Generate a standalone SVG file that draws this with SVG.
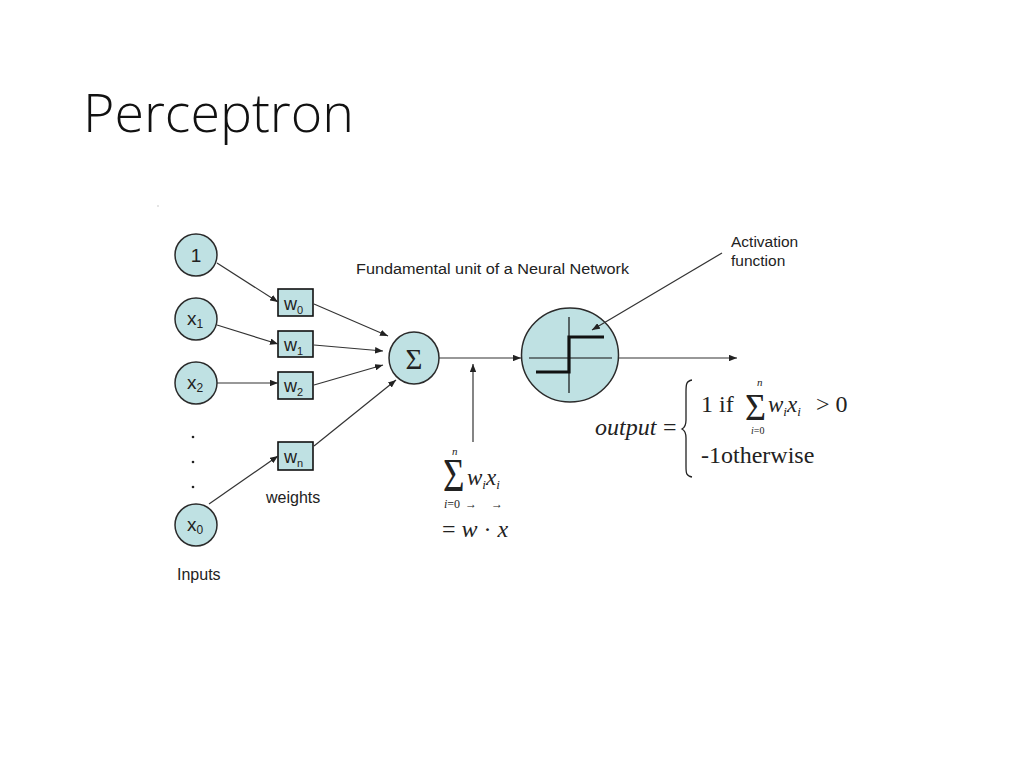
<svg xmlns="http://www.w3.org/2000/svg" width="1024" height="768" viewBox="0 0 1024 768">
<defs>
<marker id="ah" viewBox="0 0 10 8" refX="10" refY="4" markerWidth="8" markerHeight="6.4" markerUnits="userSpaceOnUse" orient="auto">
<path d="M0,0 L10,4 L0,8 Z" fill="#222"/>
</marker>
<style>
.bg{fill:#ffffff}
.node{fill:#bfe1e3;stroke:#2b2b2b;stroke-width:1.5}
.box{fill:#bfe1e3;stroke:#111;stroke-width:1.6}
.lab{font-family:"Liberation Sans",Arial,sans-serif;fill:#222}
.m{font-family:"Liberation Serif","Times New Roman",serif;fill:#222}
.mi{font-family:"Liberation Serif","Times New Roman",serif;font-style:italic;fill:#222}
.c{stroke:#333;stroke-width:1.2;fill:none;marker-end:url(#ah)}
.ax{stroke:#111;stroke-width:1.2;fill:none}
.step{stroke:#111;stroke-width:3.2;fill:none}
</style>
</defs>
<rect class="bg" x="0" y="0" width="1024" height="768"/>
<text x="83" y="132" font-family="'Open Sans','Noto Sans',sans-serif" font-weight="300" font-size="54" fill="#111" textLength="271" lengthAdjust="spacingAndGlyphs">Perceptron</text>
<rect x="157.5" y="205.5" width="1" height="1" fill="#999"/>

<g id="in-1">
<circle class="node" cx="196" cy="255" r="21"/>
<text class="lab" x="196" y="262" font-size="19" text-anchor="middle">1</text>
</g>
<g id="in-x1">
<circle class="node" cx="196" cy="319" r="21"/>
<text class="lab" x="187" y="325" font-size="19">x<tspan font-size="12" dy="3">1</tspan></text>
</g>
<g id="in-x2">
<circle class="node" cx="196" cy="383" r="21"/>
<text class="lab" x="187" y="389" font-size="19">x<tspan font-size="12" dy="3">2</tspan></text>
</g>
<g id="dots">
<circle cx="193" cy="437" r="1.3" fill="#222"/>
<circle cx="193" cy="462" r="1.3" fill="#222"/>
<circle cx="193" cy="487" r="1.3" fill="#222"/>
</g>
<g id="in-x0">
<circle class="node" cx="196" cy="525" r="21"/>
<text class="lab" x="187" y="531" font-size="19">x<tspan font-size="12" dy="3">0</tspan></text>
</g>
<text class="lab" x="177" y="580" font-size="16">Inputs</text>

<g id="w0">
<rect class="box" x="278" y="289" width="35" height="27"/>
<text class="lab" x="284" y="310" font-size="18">w<tspan font-size="11" dy="4">0</tspan></text>
</g>
<g id="w1">
<rect class="box" x="278" y="331" width="35" height="26"/>
<text class="lab" x="284" y="351" font-size="18">w<tspan font-size="11" dy="4">1</tspan></text>
</g>
<g id="w2">
<rect class="box" x="278" y="372" width="35" height="27"/>
<text class="lab" x="284" y="392" font-size="18">w<tspan font-size="11" dy="4">2</tspan></text>
</g>
<g id="wn">
<rect class="box" x="278" y="442" width="35" height="28"/>
<text class="lab" x="284" y="463" font-size="18">w<tspan font-size="11" dy="4">n</tspan></text>
</g>
<text class="lab" x="266" y="503" font-size="16">weights</text>

<g id="sum">
<ellipse class="node" cx="414" cy="358" rx="25" ry="26"/>
<text class="m" x="414" y="369" font-size="29" text-anchor="middle">Σ</text>
</g>

<text class="lab" x="356" y="274" font-size="15.5" textLength="273" lengthAdjust="spacingAndGlyphs">Fundamental unit of a Neural Network</text>

<g id="activation">
<ellipse class="node" cx="570" cy="355" rx="48.5" ry="47"/>
<line class="ax" x1="529" y1="358" x2="612" y2="358"/>
<line class="ax" x1="569" y1="317" x2="569" y2="393"/>
<path class="step" d="M536,372 H569 V337 H604"/>
</g>
<text class="lab" x="731" y="247" font-size="15.5">Activation</text>
<text class="lab" x="731" y="266" font-size="15.5">function</text>

<g id="sum-formula">
<text class="m" font-size="42" transform="translate(443,491) scale(0.88,1.08)">Σ</text>
<text class="mi" x="452" y="455" font-size="11">n</text>
<text class="mi" x="467" y="485" font-size="23">w<tspan font-size="13" dy="4">i</tspan><tspan dy="-4">x</tspan><tspan font-size="13" dy="4">i</tspan></text>
<text class="m" x="444" y="508" font-size="12"><tspan font-style="italic">i</tspan>=0</text>
<text class="m" x="465" y="508" font-size="12">→</text>
<text class="m" x="491" y="508" font-size="12">→</text>
<text class="m" x="442" y="537" font-size="24">= <tspan font-style="italic">w</tspan> · <tspan font-style="italic">x</tspan></text>
</g>

<g id="output-formula">
<text class="mi" x="595" y="435" font-size="24">output</text>
<text class="m" x="663" y="435" font-size="24">=</text>
<path d="M692,380 C686,381 686,385 686,392 L686,420 C686,425 684,428 682,429 C684,430 686,433 686,438 L686,466 C686,473 686,476 692,477" fill="none" stroke="#222" stroke-width="1.3"/>
<text class="m" x="701" y="412" font-size="24">1 if</text>
<text class="m" font-size="38" transform="translate(745,420) scale(0.95,1)">Σ</text>
<text class="mi" x="757" y="386" font-size="11">n</text>
<text class="m" x="751" y="434" font-size="10"><tspan font-style="italic">i</tspan>=0</text>
<text class="mi" x="768" y="412" font-size="23">w<tspan font-size="13" dy="4">i</tspan><tspan dy="-4">x</tspan><tspan font-size="13" dy="4">i</tspan></text>
<text class="m" x="816" y="412" font-size="24">&gt; 0</text>
<text class="m" x="701" y="463" font-size="24">-1otherwise</text>
</g>

<g id="connectors">
<line class="c" x1="217" y1="263" x2="278" y2="302"/>
<line class="c" x1="217" y1="325" x2="278" y2="344"/>
<line class="c" x1="217" y1="383" x2="278" y2="383"/>
<line class="c" x1="209" y1="504" x2="278" y2="456"/>
<line class="c" x1="314" y1="304" x2="388" y2="336"/>
<line class="c" x1="314" y1="345" x2="383" y2="351"/>
<line class="c" x1="314" y1="385" x2="383" y2="365"/>
<line class="c" x1="314" y1="446" x2="396" y2="380"/>
<line class="c" x1="439" y1="358" x2="521" y2="358"/>
<line class="c" x1="473" y1="442" x2="473" y2="364"/>
<line class="c" x1="619" y1="358" x2="737" y2="358"/>
<line class="c" x1="722" y1="253" x2="592" y2="330"/>
</g>
</svg>
